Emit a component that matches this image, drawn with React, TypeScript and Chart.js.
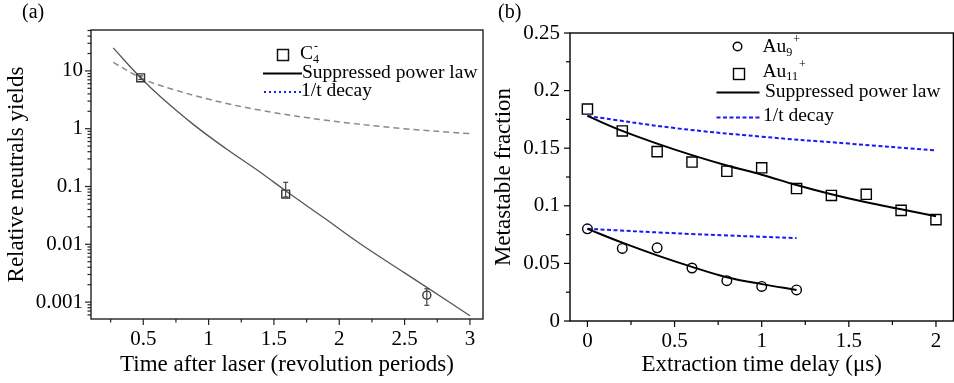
import React, { useEffect, useRef } from 'react';
import { Chart, registerables } from 'chart.js';
Chart.register(...registerables);

const FONT = "'Liberation Serif', 'Times New Roman', Times, serif";

// ---------- Panel (a) data ----------
const aPtX = [0.48, 1.59, 2.67];
const aPtY = [7.6, 0.074, 0.00132];
const aErrLo = [7.1, 0.066, 0.00088];
const aErrHi = [8.2, 0.118, 0.0017];
const aPtStyle = ['rect', 'rect', 'circle'];
const aFitX = [0.27, 0.48, 0.63, 0.88, 1.14, 1.39, 1.6, 1.88, 2.16, 2.5, 2.67, 3.0];
const aFitY = [25, 7.6, 3.6, 1.2, 0.44, 0.18, 0.081, 0.029, 0.0102, 0.0032, 0.0018, 0.00058];
const aDecX = [0.27, 0.48, 0.63, 1.01, 1.39, 1.9, 2.5, 3.0];
const aDecY = [14, 7.6, 5.6, 3.2, 2.1, 1.4, 1.0, 0.82];
const aXMajor = [0.5, 1, 1.5, 2, 2.5, 3];
const aXMinor = [0.25, 0.75, 1.25, 1.75, 2.25, 2.75];
const aYMajor = [0.001, 0.01, 0.1, 1, 10];
const aYLabels = ['0.001', '0.01', '0.1', '1', '10'];

// ---------- Panel (b) data ----------
const au11X = [0, 0.2, 0.4, 0.6, 0.8, 1.0, 1.2, 1.4, 1.6, 1.8, 2.0];
const au11Y = [0.184, 0.165, 0.147, 0.138, 0.130, 0.133, 0.115, 0.109, 0.110, 0.096, 0.088];
const au9X = [0, 0.2, 0.4, 0.6, 0.8, 1.0, 1.2];
const au9Y = [0.080, 0.063, 0.0635, 0.046, 0.035, 0.030, 0.027];
const au11FitY = [0.178, 0.165, 0.154, 0.144, 0.135, 0.127, 0.118, 0.110, 0.103, 0.097, 0.091];
const au9FitY = [0.080, 0.068, 0.057, 0.047, 0.038, 0.032, 0.027];
const au11DecX = [0, 0.5, 1.0, 1.5, 2.0];
const au11DecY = [0.178, 0.1675, 0.160, 0.154, 0.148];
const au9DecX = [0, 0.6, 1.2];
const au9DecY = [0.080, 0.0755, 0.072];
const bXMajor = [0, 0.5, 1, 1.5, 2];
const bXMinor = [0.25, 0.75, 1.25, 1.75];
const bYMajor = [0, 0.05, 0.1, 0.15, 0.2, 0.25];
const bYMinor = [0.025, 0.075, 0.125, 0.175, 0.225];

const BLUE = 'rgb(25,25,245)';

type Seg = { t: string; k?: 'sub' | 'sup'; dx?: number };
function drawRich(ctx: CanvasRenderingContext2D, segs: Seg[], x: number, y: number, size: number, color = '#000') {
  let cx = x;
  ctx.fillStyle = color;
  ctx.textBaseline = 'alphabetic';
  ctx.textAlign = 'left';
  for (const s of segs) {
    const fs = s.k ? size * 0.62 : size;
    ctx.font = `${fs}px ${FONT}`;
    const dy = s.k === 'sub' ? size * 0.2 : s.k === 'sup' ? -size * 0.45 : 0;
    cx += s.dx || 0;
    ctx.fillText(s.t, cx, y + dy);
    cx += ctx.measureText(s.t).width;
  }
}

function line(ctx: CanvasRenderingContext2D, x1: number, y1: number, x2: number, y2: number) {
  ctx.beginPath();
  ctx.moveTo(x1, y1);
  ctx.lineTo(x2, y2);
  ctx.stroke();
}

function toPts(xs: number[], ys: number[]) {
  return xs.map((x, i) => ({ x, y: ys[i] }));
}

function isIn(list: number[], v: number) {
  return list.some((m) => (m === 0 ? Math.abs(v) < 1e-12 : Math.abs(m - v) / Math.abs(m) < 1e-6));
}

function framePlugin(color: string, majorLen: number, minorLen: number, majX: number[], majY: number[]) {
  return {
    id: 'frameTicks',
    afterDraw(chart: any) {
      const { ctx, chartArea: ca } = chart;
      ctx.save();
      ctx.strokeStyle = color;
      ctx.lineWidth = 1.4;
      ctx.strokeRect(ca.left, ca.top, ca.right - ca.left, ca.bottom - ca.top);
      ctx.lineWidth = 1.2;
      const xs = chart.scales.x;
      const ys = chart.scales.y;
      xs.ticks.forEach((t: any) => {
        const p = xs.getPixelForValue(t.value);
        const len = isIn(majX, t.value) ? majorLen : minorLen;
        line(ctx, p, ca.bottom, p, ca.bottom + len);
      });
      ys.ticks.forEach((t: any) => {
        const p = ys.getPixelForValue(t.value);
        const len = isIn(majY, t.value) ? majorLen : minorLen;
        line(ctx, ca.left - len, p, ca.left, p);
      });
      ctx.restore();
    },
  };
}

function logMinorTicks(min: number, max: number) {
  const out: number[] = [];
  for (let e = -4; e <= 1; e++) {
    for (let k = 1; k <= 9; k++) {
      const v = parseFloat((k * Math.pow(10, e)).toPrecision(6));
      if (v >= min && v <= max) out.push(v);
    }
  }
  return out;
}

export default function App() {
  const refA = useRef<HTMLCanvasElement>(null);
  const refB = useRef<HTMLCanvasElement>(null);

  useEffect(() => {
    const tickFont = { family: FONT, size: 21 };
    const titleFont = { family: FONT, size: 23 };

    // ----- Panel (a) -----
    const aYMin = 5.1e-4;
    const aYMax = 51;
    const errPluginA = {
      id: 'errA',
      afterDatasetsDraw(chart: any) {
        const { ctx } = chart;
        const xs = chart.scales.x;
        const ys = chart.scales.y;
        ctx.save();
        ctx.strokeStyle = '#444';
        ctx.lineWidth = 1.2;
        aPtX.forEach((x, i) => {
          const px = xs.getPixelForValue(x);
          const lo = ys.getPixelForValue(aErrLo[i]);
          const hi = ys.getPixelForValue(aErrHi[i]);
          line(ctx, px, lo, px, hi);
          line(ctx, px - 2.5, hi, px + 2.5, hi);
          line(ctx, px - 2.5, lo, px + 2.5, lo);
        });
        ctx.restore();
      },
    };
    const legendA = {
      id: 'legendA',
      afterDraw(chart: any) {
        const { ctx } = chart;
        ctx.save();
        ctx.font = `20px ${FONT}`;
        ctx.fillStyle = '#000';
        ctx.textBaseline = 'alphabetic';
        ctx.fillText('(a)', 22, 18);
        ctx.strokeStyle = '#111';
        ctx.lineWidth = 1.5;
        ctx.strokeRect(277.5, 49.5, 11, 11);
        drawRich(ctx, [{ t: 'C' }, { t: '4', k: 'sub' }, { t: '-', k: 'sup', dx: -5 }], 300, 59, 19.5);
        ctx.strokeStyle = '#000';
        ctx.lineWidth = 2;
        line(ctx, 263, 73.5, 302, 73.5);
        drawRich(ctx, [{ t: 'Suppressed power law' }], 302, 77.5, 19.5);
        ctx.strokeStyle = BLUE;
        ctx.lineWidth = 2;
        ctx.setLineDash([2, 3]);
        line(ctx, 264, 92, 302, 92);
        ctx.setLineDash([]);
        drawRich(ctx, [{ t: '1/t decay' }], 301, 95.5, 19.5);
        ctx.restore();
      },
    };

    const chartA = new Chart(refA.current as HTMLCanvasElement, {
      type: 'scatter',
      data: {
        datasets: [
          {
            data: toPts(aPtX, aPtY),
            pointStyle: aPtStyle as any,
            pointRadius: [5.5, 5.5, 4],
            borderColor: '#333',
            backgroundColor: 'rgba(0,0,0,0)',
            borderWidth: 1.4,
            showLine: false,
          },
          {
            data: toPts(aFitX, aFitY),
            showLine: true,
            pointRadius: 0,
            borderColor: '#555',
            borderWidth: 1.3,
            tension: 0.4,
          },
          {
            data: toPts(aDecX, aDecY),
            showLine: true,
            pointRadius: 0,
            borderColor: '#8a8a8a',
            borderWidth: 1.5,
            borderDash: [6, 4],
            tension: 0.4,
          },
        ],
      },
      options: {
        responsive: false,
        maintainAspectRatio: false,
        animation: false,
        events: [],
        layout: { padding: { left: 0, top: 30, right: 7, bottom: 0 } },
        plugins: { legend: { display: false }, tooltip: { enabled: false } },
        scales: {
          x: {
            type: 'linear',
            min: 0.1,
            max: 3.1,
            grid: { display: false, drawTicks: false },
            border: { display: false },
            afterBuildTicks: (s: any) => {
              s.ticks = [...aXMinor, ...aXMajor].sort((p, q) => p - q).map((v) => ({ value: v }));
            },
            afterFit: (s: any) => {
              s.height = 64;
            },
            ticks: {
              autoSkip: false,
              maxRotation: 0,
              padding: 8,
              color: '#000',
              font: tickFont,
              callback: (v: any) => (isIn(aXMajor, Number(v)) ? String(v) : ''),
            },
            title: { display: true, text: 'Time after laser (revolution periods)', color: '#000', font: titleFont, padding: { top: 0, bottom: 4 } },
          },
          y: {
            type: 'logarithmic',
            min: aYMin,
            max: aYMax,
            grid: { display: false, drawTicks: false },
            border: { display: false },
            afterBuildTicks: (s: any) => {
              s.ticks = logMinorTicks(aYMin, aYMax).map((v) => ({ value: v }));
            },
            afterFit: (s: any) => {
              s.width = 91;
            },
            ticks: {
              autoSkip: false,
              padding: 8,
              color: '#000',
              font: tickFont,
              callback: (v: any) => {
                const i = aYMajor.findIndex((m) => Math.abs(m - Number(v)) / m < 1e-6);
                return i >= 0 ? aYLabels[i] : '';
              },
            },
            title: { display: true, text: 'Relative neutrals yields', color: '#000', font: titleFont, padding: { top: 3, bottom: 0 } },
          },
        },
      },
      plugins: [framePlugin('#222', 6, 3.5, aXMajor, aYMajor), errPluginA, legendA],
    } as any);

    // ----- Panel (b) -----
    const legendB = {
      id: 'legendB',
      afterDraw(chart: any) {
        const { ctx } = chart;
        const o = 490;
        ctx.save();
        ctx.font = `20px ${FONT}`;
        ctx.fillStyle = '#000';
        ctx.textBaseline = 'alphabetic';
        ctx.fillText('(b)', 498 - o, 18);
        ctx.strokeStyle = '#000';
        ctx.lineWidth = 1.4;
        ctx.beginPath();
        ctx.arc(737.5 - o, 46.5, 4.3, 0, Math.PI * 2);
        ctx.stroke();
        ctx.strokeRect(733.5 - o, 68.5, 11, 11);
        drawRich(ctx, [{ t: 'Au' }, { t: '9', k: 'sub' }, { t: '+', k: 'sup', dx: 1 }], 762.5 - o, 52, 19.5);
        drawRich(ctx, [{ t: 'Au' }, { t: '11', k: 'sub' }, { t: '+', k: 'sup', dx: 1 }], 762.5 - o, 76.5, 19.5);
        ctx.lineWidth = 2;
        line(ctx, 716.5 - o, 92.5, 759.5 - o, 92.5);
        drawRich(ctx, [{ t: 'Suppressed power law' }], 765 - o, 96.5, 19.5);
        ctx.strokeStyle = BLUE;
        ctx.setLineDash([4, 2.5]);
        line(ctx, 716.5 - o, 117.5, 759.5 - o, 117.5);
        ctx.setLineDash([]);
        drawRich(ctx, [{ t: '1/t decay' }], 763 - o, 120.5, 19.5);
        ctx.restore();
      },
    };

    const lineDs = (xs: number[], ys: number[], color: string, dash: number[] = []) => ({
      data: toPts(xs, ys),
      showLine: true,
      pointRadius: 0,
      borderColor: color,
      borderWidth: 2,
      borderDash: dash,
      tension: 0.4,
    });

    const chartB = new Chart(refB.current as HTMLCanvasElement, {
      type: 'scatter',
      data: {
        datasets: [
          {
            data: toPts(au11X, au11Y),
            pointStyle: 'rect',
            pointRadius: 7.2,
            borderColor: '#000',
            backgroundColor: 'rgba(0,0,0,0)',
            borderWidth: 1.4,
          },
          {
            data: toPts(au9X, au9Y),
            pointStyle: 'circle',
            pointRadius: 4.8,
            borderColor: '#000',
            backgroundColor: 'rgba(0,0,0,0)',
            borderWidth: 1.4,
          },
          lineDs(au11X, au11FitY, '#000'),
          lineDs(au9X, au9FitY, '#000'),
          lineDs(au11DecX, au11DecY, BLUE, [4, 2.5]),
          lineDs(au9DecX, au9DecY, BLUE, [4, 2.5]),
        ],
      },
      options: {
        responsive: false,
        maintainAspectRatio: false,
        animation: false,
        events: [],
        layout: { padding: { left: 0, top: 33, right: 1, bottom: 0 } },
        plugins: { legend: { display: false }, tooltip: { enabled: false } },
        scales: {
          x: {
            type: 'linear',
            min: -0.1,
            max: 2.1,
            grid: { display: false, drawTicks: false },
            border: { display: false },
            afterBuildTicks: (s: any) => {
              s.ticks = [...bXMajor, ...bXMinor].sort((p, q) => p - q).map((v) => ({ value: v }));
            },
            afterFit: (s: any) => {
              s.height = 62;
            },
            ticks: {
              autoSkip: false,
              maxRotation: 0,
              padding: 8,
              color: '#000',
              font: tickFont,
              callback: (v: any) => (isIn(bXMajor, Number(v)) ? String(v) : ''),
            },
            title: { display: true, text: 'Extraction time delay (μs)', color: '#000', font: titleFont, padding: { top: 0, bottom: 4 } },
          },
          y: {
            type: 'linear',
            min: 0,
            max: 0.25,
            grid: { display: false, drawTicks: false },
            border: { display: false },
            afterBuildTicks: (s: any) => {
              s.ticks = [...bYMajor, ...bYMinor].sort((p, q) => p - q).map((v) => ({ value: v }));
            },
            afterFit: (s: any) => {
              s.width = 80;
            },
            ticks: {
              autoSkip: false,
              padding: 10,
              color: '#000',
              font: tickFont,
              callback: (v: any) => (isIn(bYMajor, Number(v)) ? String(v) : ''),
            },
            title: { display: true, text: 'Metastable fraction', color: '#000', font: titleFont, padding: { top: 0, bottom: 0 } },
          },
        },
      },
      plugins: [framePlugin('#000', 6, 4, bXMajor, bYMajor), legendB],
    } as any);

    return () => {
      chartA.destroy();
      chartB.destroy();
    };
  }, []);

  return (
    <div style={{ position: 'absolute', left: 0, top: 0, width: 954, height: 383, overflow: 'hidden', background: '#fff' }}>
      <canvas ref={refA} width={490} height={383} style={{ position: 'absolute', left: 0, top: 0, display: 'block' }} />
      <canvas ref={refB} width={472} height={383} style={{ position: 'absolute', left: 490, top: 0, display: 'block' }} />
    </div>
  );
}
